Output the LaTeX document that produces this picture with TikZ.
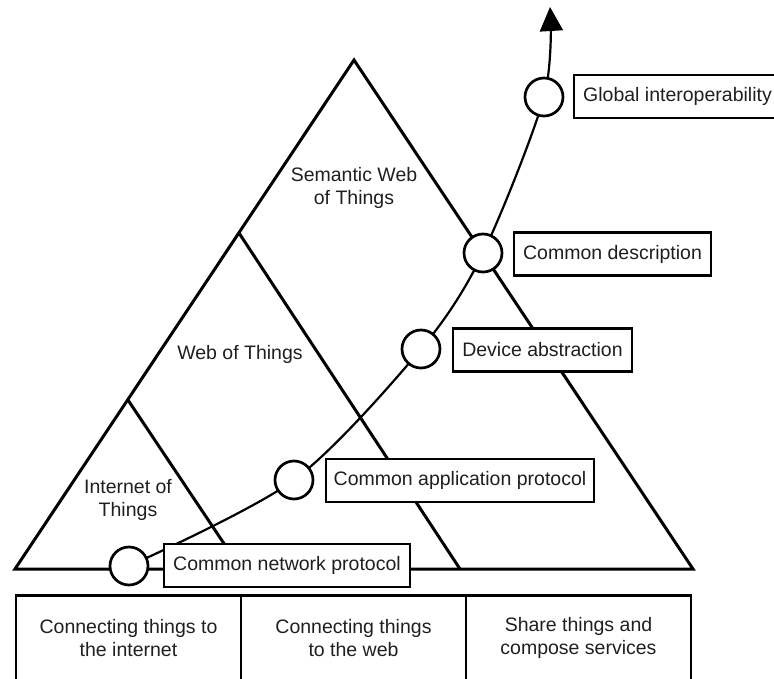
\documentclass[tikz,border=0pt]{standalone}
\usepackage{fontspec}
\setmainfont{Liberation Sans}
\usetikzlibrary{arrows.meta}
\begin{document}
\begin{tikzpicture}[x=1pt,y=-1pt,
  txt/.style={font=\fontsize{19.5}{23.5}\selectfont, text=black!88},
  layer/.style={line width=3pt, line join=miter},
  lbl/.style={txt, align=center, inner sep=0pt},
  stage/.style={txt, draw, line width=2.7pt, fill=white, inner sep=0pt, minimum height=43pt},
  milestone/.style={circle, draw, line width=2.7pt, fill=white, minimum size=38pt, inner sep=0pt},
  trend/.style={line width=2.2pt, -{Triangle[width=23pt,length=24pt]}},
  column/.style={txt, draw, line width=2.7pt, align=center, minimum width=225pt, minimum height=85pt, inner sep=0pt}]
\clip (0,0) rectangle (774,679);

% nested layers of the pyramid
\draw[layer] (15,569) -- (354,60) -- (693,569) -- cycle;
\draw[layer] (239,233) -- (460,569);
\draw[layer] (128,400) -- (241,569);

\node[lbl] (swot) at (354,188) {Semantic Web\\of Things};
\node[lbl] (wot)  at (240,354) {Web of Things};
\node[lbl] (iot)  at (128,500) {Internet of\\Things};

% milestones along the growth curve
\coordinate (p1) at (129,566);
\coordinate (p2) at (294,480);
\coordinate (p3) at (421,349);
\coordinate (p4) at (483,253);
\coordinate (p5) at (544,97);
\coordinate (tip) at (550,7);

\draw[trend] plot[smooth, tension=0.5] coordinates {(p1) (p2) (p3) (p4) (p5) (tip)};

\node[milestone] (c1) at (p1) {};
\node[milestone] (c2) at (p2) {};
\node[milestone] (c3) at (p3) {};
\node[milestone] (c4) at (p4) {};
\node[milestone] (c5) at (p5) {};

\node[stage, minimum width=246pt] (cnp) at (287,565.5) {Common network protocol};
\node[stage, minimum width=268pt] (cap) at (460,480.5) {Common application protocol};
\node[stage, minimum width=179pt] (da)  at (542.5,350) {Device abstraction};
\node[stage, minimum width=197pt] (cd)  at (612.5,254) {Common description};
\node[stage, minimum width=207pt] (gi)  at (677.5,96.5) {Global interoperability};

% goals of each layer
\node[column] (g1) at (128.5,638) {Connecting things to\\the internet};
\node[column] (g2) at (353.5,638) {Connecting things\\to the web};
\node[column] (g3) at (578.5,638) {Share things and\\compose services};
\end{tikzpicture}
\end{document}
